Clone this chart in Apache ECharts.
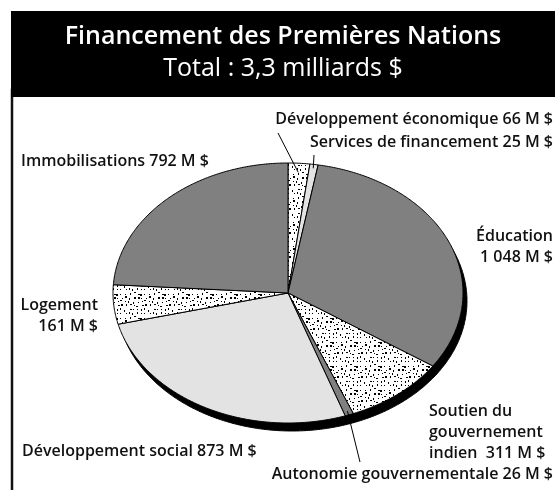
<!DOCTYPE html>
<html>
<head>
<meta charset="utf-8">
<script src="https://cdn.jsdelivr.net/npm/echarts@6/dist/echarts.min.js"></script>
<style>
    html, body { margin: 0; padding: 0; background: #fff; }
    #chart { width: 555px; height: 490px; }
</style>
</head>
<body>
<div id="chart"></div>
<script>
// data, clockwise from 12 o'clock
const title = 'Financement des Premières Nations'
const subtitle = 'Total : 3,3 milliards $'
const categories = [
    'Développement économique',
    'Services de financement',
    'Éducation',
    'Soutien du gouvernement indien',
    'Autonomie gouvernementale',
    'Développement social',
    'Logement',
    'Immobilisations',
]
const values = [66, 25, 1048, 311, 26, 873, 161, 792] // millions $

// styles / layout (kept apart from the data)
const fillKind = ['dots', 'light', 'dark', 'dots', 'dark', 'light', 'dots', 'dark']
const labelLayout = [
    { x: 553, y: 119, align: 'right', text: (n, v) => n + ' ' + v },
    { x: 553, y: 142, align: 'right', text: (n, v) => n + ' ' + v },
    { x: 553, y: 247, align: 'right', text: (n, v) => n + '\n' + v },
    { x: 429, y: 432, align: 'left', text: (n, v) => 'Soutien du\ngouvernement\nindien  ' + v },
    { x: 553, y: 474, align: 'right', text: (n, v) => n + ' ' + v },
    { x: 22, y: 451, align: 'left', text: (n, v) => n + ' ' + v },
    { x: 98, y: 316, align: 'right', text: (n, v) => n + '\n' + v },
    { x: 21, y: 161, align: 'left', text: (n, v) => n + ' ' + v },
]
// leader lines: [slice index, label anchor x, y, radius fraction]
const leaders = [
    [0, 278, 133, 0.93],
    [1, 314, 155, 0.97],
    [4, 360, 462, 0.97],
]

const cx = 288, cy = 293, rx = 175, ry = 130
const shadowDx = 4, shadowDy = 8
const labelFont = '"Open Sans", sans-serif'

const total = values.reduce((a, b) => a + b, 0)
const starts = []
let acc = 0
values.forEach(v => { starts.push(acc); acc += v })

function angleAt(frac) {
    return -Math.PI / 2 + frac * 2 * Math.PI
}
function pointOn(i, f) {
    const a = angleAt((starts[i] + values[i] / 2) / total)
    return [cx + rx * f * Math.cos(a), cy + ry * f * Math.sin(a)]
}
function money(v) {
    return String(v).replace(/\B(?=(\d{3})+(?!\d))/g, ' ') + ' M $'
}
function wedge(a0, a1, ox, oy) {
    const pts = [[cx + ox, cy + oy]]
    const n = Math.max(2, Math.ceil((a1 - a0) / 0.01))
    for (let k = 0; k <= n; k++) {
        const a = a0 + (a1 - a0) * k / n
        pts.push([cx + ox + rx * Math.cos(a), cy + oy + ry * Math.sin(a)])
    }
    return pts
}

// stipple texture (jittered grid of small specks)
function makeDots() {
    const w = 24, h = 24
    const c = document.createElement('canvas')
    c.width = w
    c.height = h
    const ctx = c.getContext('2d')
    ctx.fillStyle = '#fff'
    ctx.fillRect(0, 0, w, h)
    ctx.fillStyle = '#000'
    let s = 11
    const rnd = () => { s = (s * 16807) % 2147483647; return s / 2147483647 }
    for (let gy = 0; gy < h; gy += 4) {
        for (let gx = 0; gx < w; gx += 4) {
            const x = gx + Math.floor(rnd() * 3), y = gy + Math.floor(rnd() * 3)
            ctx.fillRect(x, y, rnd() > 0.6 ? 2 : 1, rnd() > 0.5 ? 2 : 1)
        }
    }
    return c
}
const dots = makeDots()
function fillFor(i) {
    const k = fillKind[i]
    if (k === 'dots') return { image: dots, repeat: 'repeat' }
    return k === 'dark' ? '#808080' : '#e3e3e3'
}

const chart = echarts.init(document.getElementById('chart'))

const graphics = [
    { type: 'rect', shape: { x: 12, y: 90, width: 600, height: 460 }, style: { fill: '#fff', stroke: '#111', lineWidth: 2.5 }, z: 0 },
    { type: 'rect', shape: { x: 11, y: 11, width: 560, height: 86 }, style: { fill: '#000' }, z: 1 },
    { type: 'text', x: 283, y: 37, z: 2, style: { text: title, fill: '#fff', font: '600 25px "Open Sans", sans-serif', align: 'center', verticalAlign: 'middle' } },
    { type: 'text', x: 283, y: 69, z: 2, style: { text: subtitle, fill: '#fff', font: '25px "Open Sans", sans-serif', align: 'center', verticalAlign: 'middle' } },
]
labelLayout.forEach((l, i) => {
    graphics.push({
        type: 'text', x: l.x, y: l.y, z: 5,
        style: {
            text: l.text(categories[i], money(values[i])),
            fill: '#111',
            font: '600 16px ' + labelFont,
            lineHeight: 21,
            align: l.align,
            verticalAlign: 'middle',
        },
    })
})
leaders.forEach(([i, x, y, f]) => {
    const p = pointOn(i, f)
    graphics.push({ type: 'line', z: 5, shape: { x1: x, y1: y, x2: p[0], y2: p[1] }, style: { stroke: '#000', lineWidth: 1 } })
})

chart.setOption({
    animation: false,
    graphic: graphics,
    series: [{
        type: 'custom',
        coordinateSystem: 'none',
        z: 3,
        data: values.map((v, i) => ({ name: categories[i], value: v })),
        renderItem(params, api) {
            const i = params.dataIndex
            const a0 = angleAt(starts[i] / total)
            const a1 = angleAt((starts[i] + api.value(0)) / total)
            return {
                type: 'group',
                children: [
                    {
                        type: 'polygon', z2: 0,
                        shape: { points: wedge(a0, a1, shadowDx, shadowDy) },
                        style: { fill: '#000', stroke: '#000', lineWidth: 1 },
                    },
                    {
                        type: 'polygon', z2: 10,
                        shape: { points: wedge(a0, a1, 0, 0) },
                        style: { fill: fillFor(i), stroke: '#000', lineWidth: 1, lineJoin: 'round' },
                    },
                ],
            }
        },
    }],
})
</script>
</body>
</html>
